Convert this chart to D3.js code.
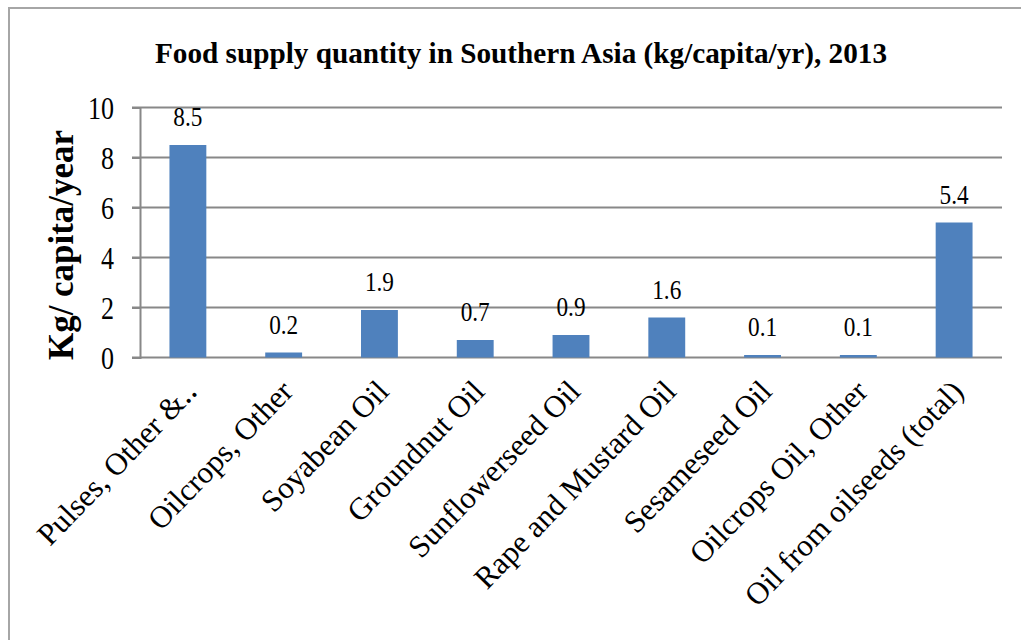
<!DOCTYPE html>
<html>
<head>
<meta charset="utf-8" />
<script src="https://cdnjs.cloudflare.com/ajax/libs/d3/7.8.5/d3.min.js"></script>
<style>
  body { margin: 0; background: white; }
  svg { display: block; font-family: "Liberation Serif", "Times New Roman", serif; }
</style>
</head>
<body>
<div id="chart"></div>
<script>
  var categories = ["Pulses, Other &\u2025", "Oilcrops,  Other", "Soyabean Oil", "Groundnut Oil",
    "Sunflowerseed Oil", "Rape and Mustard Oil", "Sesameseed Oil", "Oilcrops Oil,  Other",
    "Oil from oilseeds (total)"];
  var values = [8.5, 0.2, 1.9, 0.7, 0.9, 1.6, 0.1, 0.1, 5.4];
  var valueLabels = ["8.5", "0.2", "1.9", "0.7", "0.9", "1.6", "0.1", "0.1", "5.4"];
  var yTicks = [0, 2, 4, 6, 8, 10];

  var W = 1021, H = 640;
  var plotLeft = 140, plotRight = 1002, plotTop = 107.5, plotBottom = 357.5;

  var svg = d3.select("#chart").append("svg")
    .attr("width", W).attr("height", H);

  // squeeze text horizontally like the original rendering
  function condense(sel, k) {
    sel.each(function () {
      var w = this.getComputedTextLength();
      d3.select(this).attr("textLength", w * k).attr("lengthAdjust", "spacingAndGlyphs");
    });
  }

  svg.append("rect")
    .attr("x", 9).attr("y", 8)
    .attr("width", 1040).attr("height", 660)
    .attr("fill", "white")
    .attr("stroke", "#a6a6a6").attr("stroke-width", 2);

  var x = d3.scaleBand()
    .domain(categories)
    .range([plotLeft, plotRight])
    .paddingInner(0.615)
    .paddingOuter(0.3075);

  var y = d3.scaleLinear().domain([0, 10]).range([plotBottom, plotTop]);

  // gridlines
  svg.append("g")
    .selectAll("line")
    .data(yTicks)
    .enter().append("line")
    .attr("x1", plotLeft - 8).attr("x2", plotRight)
    .attr("y1", function (d) { return y(d); })
    .attr("y2", function (d) { return y(d); })
    .attr("stroke", "#888").attr("stroke-width", 2);

  var yAxis = svg.append("g")
    .attr("transform", "translate(" + plotLeft + ",0)")
    .call(d3.axisLeft(y).tickValues(yTicks).tickSize(8).tickPadding(18));
  yAxis.select(".domain").attr("stroke", "#888").attr("stroke-width", 2);
  yAxis.selectAll(".tick line").attr("stroke", "#888").attr("stroke-width", 2);
  yAxis.selectAll(".tick text")
    .attr("font-family", "Liberation Serif")
    .attr("font-size", 31)
    .attr("fill", "#000")
    .attr("dy", "0.34em");
  condense(yAxis.selectAll(".tick text"), 0.84);

  // bars
  svg.append("g")
    .selectAll("rect")
    .data(values)
    .enter().append("rect")
    .attr("x", function (d, i) { return x(categories[i]); })
    .attr("width", x.bandwidth())
    .attr("y", function (d) { return y(d); })
    .attr("height", function (d) { return y(0) - y(d); })
    .attr("fill", "#4f81bd");

  // value labels
  var vl = svg.append("g")
    .selectAll("text")
    .data(values)
    .enter().append("text")
    .attr("x", function (d, i) { return x(categories[i]) + x.bandwidth() / 2; })
    .attr("y", function (d) { return y(d) - 19; })
    .attr("text-anchor", "middle")
    .attr("font-size", 28)
    .text(function (d, i) { return valueLabels[i]; });
  condense(vl, 0.83);

  // category labels
  svg.append("g")
    .selectAll("text")
    .data(categories)
    .enter().append("text")
    .attr("transform", function (d) {
      return "translate(" + (x(d) + x.bandwidth() / 2 + 11) + ",393) rotate(-46)";
    })
    .attr("text-anchor", "end")
    .attr("font-size", 31)
    .text(function (d) { return d; });

  // title
  svg.append("text")
    .attr("x", 521).attr("y", 63)
    .attr("text-anchor", "middle")
    .attr("font-size", 30)
    .attr("font-weight", "bold")
    .attr("textLength", 732)
    .attr("lengthAdjust", "spacingAndGlyphs")
    .text("Food supply  quantity  in Southern  Asia  (kg/capita/yr), 2013");

  // y axis title
  svg.append("text")
    .attr("transform", "translate(73,245) rotate(-90)")
    .attr("text-anchor", "middle")
    .attr("font-size", 35)
    .attr("font-weight", "bold")
    .attr("textLength", 230)
    .attr("lengthAdjust", "spacingAndGlyphs")
    .text("Kg/ capita/year");
</script>
</body>
</html>
